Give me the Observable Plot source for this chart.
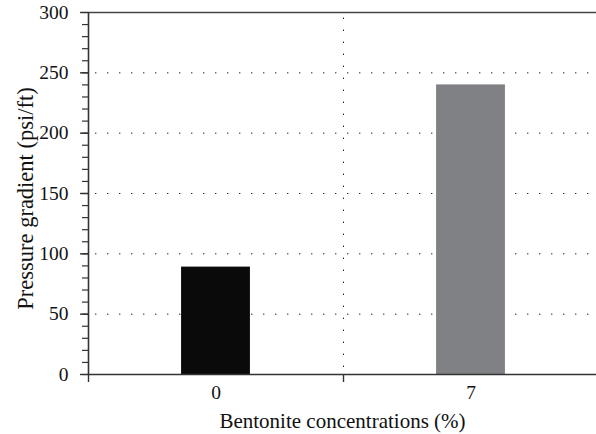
<!DOCTYPE html>
<html>
<head>
<meta charset="utf-8">
<script src="https://cdn.jsdelivr.net/npm/d3@7"></script>
<script src="https://cdn.jsdelivr.net/npm/@observablehq/plot@0.6"></script>
<style>
  html, body { margin: 0; padding: 0; background: #fff; }
</style>
</head>
<body>
<div id="chart"></div>
<script>
const categories = ["0", "7"];
const values = [89, 240];
const colors = ["#0a0a0a", "#808185"];
const yMajorTicks = [0, 50, 100, 150, 200, 250, 300];
const yMinorTicks = d3.range(0, 301, 10);
const yGridValues = [50, 100, 150, 200, 250];
const xBoundaries = [-0.5, 0.5, 1.5];
const xLabel = "Bentonite concentrations (%)";
const yLabel = "Pressure gradient (psi/ft)";

const data = categories.map((c, i) => ({i, category: c, value: values[i], color: colors[i]}));
const halfBar = 0.135;

const chart = Plot.plot({
  width: 596,
  height: 434,
  marginLeft: 88,
  marginRight: 0,
  marginTop: 12,
  marginBottom: 60,
  style: {fontFamily: "'Liberation Serif', serif", fontSize: "19.5px", background: "#fff", color: "#111"},
  x: {type: "linear", domain: [-0.5, 1.5], range: [88, 598]},
  y: {domain: [0, 300]},
  marks: [
    Plot.ruleY(yGridValues, {x1: -0.5, x2: 1.5, stroke: "#222", strokeDasharray: "1.4,10.6", strokeDashoffset: -7}),
    Plot.ruleX([0.5], {y1: 0, y2: 300, stroke: "#222", strokeDasharray: "1.4,10.6", strokeDashoffset: -7}),
    Plot.rectY(data, {x1: d => d.i - halfBar, x2: d => d.i + halfBar, y1: 0, y2: "value", fill: "color"}),
    Plot.ruleY([300], {x1: -0.5, x2: 1.5, stroke: "#444", strokeWidth: 1.6}),
    Plot.ruleY([0], {x1: -0.5, x2: 1.5, stroke: "#333", strokeWidth: 1.6}),
    Plot.ruleX([-0.5], {y1: 0, y2: 300, stroke: "#333", strokeWidth: 1.6}),
    Plot.axisY({ticks: yMinorTicks, tickSize: 6, text: null, label: null, stroke: "#333", strokeWidth: 1.2}),
    Plot.axisY({ticks: yMajorTicks, tickSize: 8, tickPadding: 12, stroke: "#333", strokeWidth: 1.4, fontSize: 19.5,
      label: null}),
    Plot.text([yLabel], {frameAnchor: "left", dx: -56, dy: 5, rotate: -90, fontSize: 22.5, fill: "#111", textAnchor: "middle", lineAnchor: "bottom"}),
    Plot.axisX({ticks: xBoundaries, tickSize: 8, text: null, label: null, stroke: "#333", strokeWidth: 1.4}),
    Plot.axisX({ticks: [0, 1], tickSize: 0, tickPadding: 11, tickFormat: i => categories[i], fontSize: 19.5,
      label: null}),
    Plot.text([xLabel], {frameAnchor: "bottom", dy: 53, fontSize: 21, fill: "#111", lineAnchor: "bottom"})
  ]
});
document.getElementById("chart").appendChild(chart);
</script>
</body>
</html>
